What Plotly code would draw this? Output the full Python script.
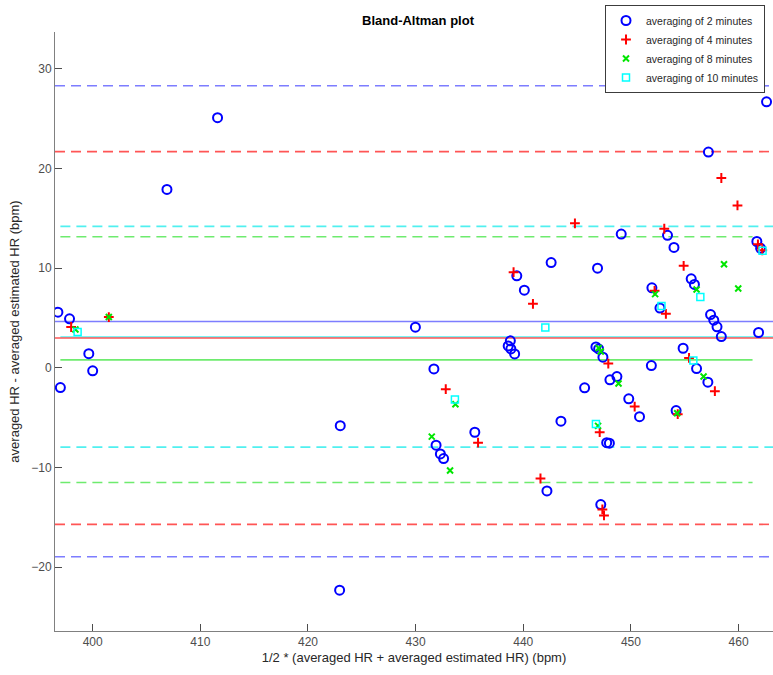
import plotly.graph_objects as go

# ---------------- data ----------------
x2 = [396.77, 397.85, 399.64, 400.0, 397.0, 406.9, 411.6, 422.94, 423.0, 429.98,
      431.7, 431.9, 432.3, 432.6, 435.5, 438.8, 438.6, 438.85, 439.2, 439.4,
      440.1, 442.59, 443.5, 442.2, 445.7, 446.9, 446.75, 447.0, 447.4, 447.75,
      448.0, 448.05, 448.7, 449.1, 449.8, 450.8, 451.95, 451.9, 452.7, 453.4,
      454.0, 447.2, 454.2, 454.85, 455.6, 455.9, 456.1, 457.15, 457.2, 457.4,
      457.7, 458.0, 458.4, 461.7, 462.05, 461.86, 462.6]
y2 = [5.59, 4.92, 1.42, -0.3, -1.98, 17.9, 25.1, -22.3, -5.8, 4.08,
      -0.1, -7.76, -8.63, -9.1, -6.46, 2.71, 2.2, 1.9, 1.4, 9.24,
      7.8, 10.57, -5.35, -12.35, -2.0, 10.0, 2.1, 1.9, 1.07, -7.5,
      -7.55, -1.2, -0.87, 13.43, -3.1, -4.9, 8.03, 0.23, 6.0, 13.3,
      12.08, -13.72, -4.28, 1.97, 8.94, 8.37, -0.07, -1.44, 21.65, 5.35,
      4.79, 4.12, 3.14, 12.68, 12.0, 3.55, 26.7]

x4 = [398.0, 401.5, 432.8, 435.8, 439.1, 440.9, 441.6, 444.8, 447.1, 447.9,
      447.35, 447.5, 450.35, 452.2, 453.1, 453.25, 454.35, 454.9, 455.4, 457.8,
      458.4, 459.9, 461.8, 462.2]
y4 = [4.1, 5.1, -2.14, -7.5, 9.6, 6.43, -11.1, 14.5, -6.45, 0.43,
      -14.2, -14.8, -3.88, 7.73, 13.96, 5.42, -4.65, 10.24, 1.0, -2.34,
      19.05, 16.3, 12.4, 11.8]

x8 = [398.4, 401.5, 431.5, 433.7, 433.2, 446.95, 447.0, 447.2, 448.85, 452.25,
      454.3, 456.1, 456.75, 458.65, 459.97]
y8 = [3.85, 5.1, -6.9, -3.65, -10.3, -5.82, 2.0, 1.64, -1.57, 7.4,
      -4.55, 7.86, -0.87, 10.4, 7.96]

x10 = [398.6, 433.65, 442.05, 446.75, 452.84, 455.8, 456.45, 462.23]
y10 = [3.6, -3.18, 4.05, -5.62, 6.22, 0.73, 7.1, 11.75]

# bias (mean difference) and limits of agreement per series
bias = {"2": 4.65, "4": 3.0, "8": 0.8, "10": 3.1}
loa_upper = {"2": 28.3, "4": 21.7, "8": 13.15, "10": 14.2}
loa_lower = {"2": -18.95, "4": -15.7, "8": -11.5, "10": -7.95}
line_xspan = {"2": [396.5, 463.2], "4": [396.5, 463.2], "8": [397.0, 461.3], "10": [397.0, 463.2]}

series_names = {"2": "averaging of 2 minutes", "4": "averaging of 4 minutes",
                "8": "averaging of 8 minutes", "10": "averaging of 10 minutes"}

x_ticks = [400, 410, 420, 430, 440, 450, 460]
y_ticks = [-20, -10, 0, 10, 20, 30]

# ---------------- styling ----------------
marker_col = {"2": "rgb(0,0,255)", "4": "rgb(255,0,0)", "8": "rgb(0,230,0)", "10": "rgb(0,255,255)"}
line_col = {"2": "rgb(125,125,255)", "4": "rgb(255,85,85)", "8": "rgb(110,235,110)", "10": "rgb(80,240,240)"}

fig = go.Figure()

for key in ["8", "10", "4", "2"]:
    xs = line_xspan[key]
    for val, dash in [(bias[key], "solid"), (loa_upper[key], "10px,6px"), (loa_lower[key], "10px,6px")]:
        fig.add_trace(go.Scatter(x=xs, y=[val, val], mode="lines",
                                 line=dict(color=line_col[key], width=1.6, dash=dash),
                                 showlegend=False, hoverinfo="skip"))

fig.add_trace(go.Scatter(x=x2, y=y2, mode="markers", name=series_names["2"],
                         marker=dict(symbol="circle-open", size=9, color=marker_col["2"],
                                     line=dict(width=2, color=marker_col["2"]))))
fig.add_trace(go.Scatter(x=x4, y=y4, mode="markers", name=series_names["4"],
                         marker=dict(symbol="cross-thin", size=7, color=marker_col["4"],
                                     line=dict(width=2, color=marker_col["4"]))))
fig.add_trace(go.Scatter(x=x8, y=y8, mode="markers", name=series_names["8"],
                         marker=dict(symbol="x-thin", size=6, color=marker_col["8"],
                                     line=dict(width=2, color=marker_col["8"]))))
fig.add_trace(go.Scatter(x=x10, y=y10, mode="markers", name=series_names["10"],
                         marker=dict(symbol="square-open", size=7, color=marker_col["10"],
                                     line=dict(width=1.5, color=marker_col["10"]))))

fig.update_layout(
    width=773, height=675,
    margin=dict(l=55, r=0, t=32, b=44),
    paper_bgcolor="white", plot_bgcolor="white",
    font=dict(family="Liberation Sans, Arial, sans-serif", size=12, color="rgb(77,77,77)"),
    title=dict(text="<b>Bland-Altman plot</b>", x=418 / 773, xanchor="center",
               y=1 - 20 / 675, yanchor="middle",
               font=dict(size=13, color="black", family="Liberation Sans, Arial, sans-serif")),
    legend=dict(x=(605 - 55) / 718, y=1 + 27 / 599, xanchor="left", yanchor="top",
                bgcolor="white", bordercolor="rgb(60,60,60)", borderwidth=1,
                font=dict(size=10.5, color="rgb(40,40,40)"), tracegroupgap=0,
                itemwidth=30),
    xaxis=dict(range=[396.5, 463.2], tickvals=x_ticks, ticks="inside", ticklen=7,
               tickcolor="rgb(77,77,77)", showline=True, linecolor="rgb(128,128,128)",
               linewidth=1, showgrid=False, zeroline=False, mirror=False,
               title=dict(text="1/2 * (averaged HR + averaged estimated HR) (bpm)",
                          font=dict(size=13, color="rgb(40,40,40)"), standoff=4)),
    yaxis=dict(range=[-26.4, 33.7], tickvals=y_ticks, ticks="inside", ticklen=7,
               tickcolor="rgb(77,77,77)", showline=True, linecolor="rgb(128,128,128)",
               linewidth=1, showgrid=False, zeroline=False, mirror=False,
               title=dict(text="averaged HR - averaged estimated HR (bpm)",
                          font=dict(size=13, color="rgb(40,40,40)"), standoff=8)),
)

fig.write_html("out.html")
